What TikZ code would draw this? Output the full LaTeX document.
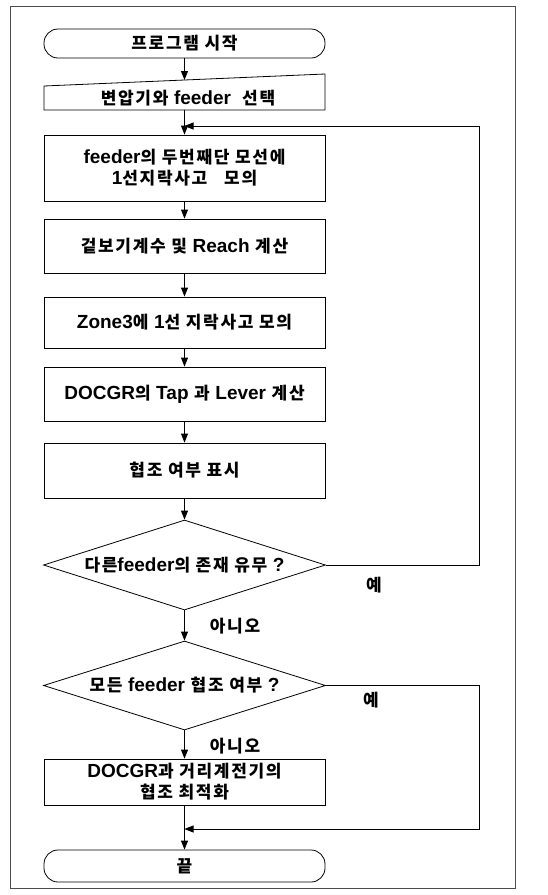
\documentclass[tikz,border=0pt]{standalone}
\usepackage{fontspec}
\setmainfont{Noto Sans CJK KR}[LetterSpace=10]
\newfontfamily\latfont{Liberation Sans}
\newcommand\LT[1]{{\fontsize{19}{22}\selectfont\latfont\bfseries #1}}
\usetikzlibrary{shapes.geometric,arrows.meta}
\begin{document}
\begin{tikzpicture}[x=1pt,y=-1pt,
  every node/.style={font=\fontsize{17}{21}\selectfont\bfseries},
  line/.style={line width=0.8pt},
  arr/.style={line width=0.8pt,-{Triangle[length=9pt,width=7pt]}},
  box/.style={draw,line width=0.8pt,minimum width=281pt,inner sep=0pt,align=center},
  term/.style={draw,line width=0.8pt,minimum width=281pt,inner sep=0pt,rounded corners=14pt},
  dec/.style={draw,line width=0.8pt,shape=diamond,aspect=3.13,inner sep=0pt,minimum width=282pt},
  lbl/.style={inner sep=0pt}]
\useasboundingbox (0,0) rectangle (548,895);
\draw[line width=0.6pt,black!70] (10,6) rectangle (515,888);
% start
\node[term,minimum height=29pt] (start) at (184.5,43.5) {프로그램 시작};
% manual input
\draw[line] (44,86) -- (325,74) -- (325,110) -- (44,110) -- cycle;
\node[lbl] (sel) at (188,98) {변압기와 \LT{feeder} \ 선택};
\coordinate (seltop) at (184.5,80);
\coordinate (selbot) at (184.5,110);
\node[box,minimum height=66pt] (b3) at (184.5,168) {\LT{feeder}의 두번째단 모선에\\\LT{1}선지락사고 \ \ 모의};
\node[box,minimum height=54pt] (b4) at (184.5,246) {겉보기계수 및 \LT{Reach} 계산};
\node[box,minimum height=51pt] (b5) at (184.5,322.5) {\LT{Zone3}에 \LT{1}선 지락사고 모의};
\node[box,minimum height=54pt] (b6) at (184.5,394) {\LT{DOCGR}의 \LT{Tap} 과 \LT{Lever} 계산};
\node[box,minimum height=55pt] (b7) at (184.5,470.5) {협조 여부 표시};
\node[dec,minimum height=90pt] (d1) at (184.5,565) {다른\LT{feeder}의 존재 유무 \LT{?}};
\node[dec,minimum height=89pt] (d2) at (184.5,685.5) {모든 \LT{feeder} 협조 여부 \LT{?}};
\node[box,minimum height=46pt] (b8) at (184.5,782) {\LT{DOCGR}과 거리계전기의\\협조 최적화};
\node[term,minimum height=32pt] (end) at (184.5,866) {끝};
% connectors
\draw[arr] (start) -- (seltop);
\coordinate (j1) at (184.5,126);
\coordinate (r1) at (479,126);
\coordinate (r2) at (479,565);
\draw[arr] (selbot) -- (b3);
\draw[arr] (b3) -- (b4);
\draw[arr] (b4) -- (b5);
\draw[arr] (b5) -- (b6);
\draw[arr] (b6) -- (b7);
\draw[arr] (b7) -- (d1);
\draw[arr] (d1.east) -- (r2) -- (r1) -- (j1);
\draw[arr] (d1) -- (d2);
\coordinate (j2) at (184.5,829);
\coordinate (r3) at (479,685.5);
\coordinate (r4) at (479,829);
\draw[arr] (d2) -- (b8);
\draw[arr] (d2.east) -- (r3) -- (r4) -- (j2);
\draw[arr] (b8) -- (end);
% labels
\node[lbl] (y1) at (374,585) {예};
\node[lbl] (n1) at (235,626) {아니오};
\node[lbl] (y2) at (371,700) {예};
\node[lbl] (n2) at (235,746) {아니오};
\end{tikzpicture}
\end{document}
